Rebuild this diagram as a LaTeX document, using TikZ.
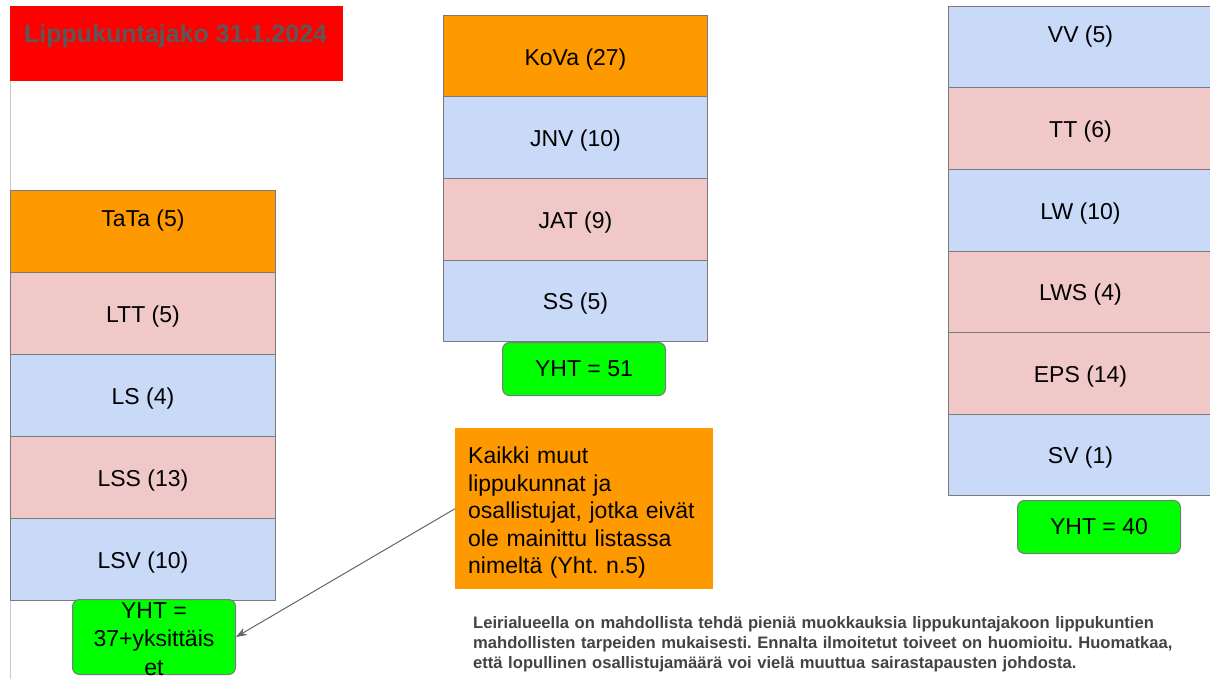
\documentclass[tikz,border=0pt]{standalone}
\usepackage{fontspec}
\setmainfont{Liberation Sans}
\usetikzlibrary{arrows.meta}
\definecolor{cblue}{HTML}{C9DAF8}
\definecolor{cpink}{HTML}{F0C8C8}
\definecolor{corange}{HTML}{FF9900}
\definecolor{cgreen}{HTML}{00FF00}
\definecolor{cborder}{HTML}{7A7A7A}
\definecolor{ctitle}{HTML}{595959}
\definecolor{cnote}{HTML}{434343}
\definecolor{cedge}{HTML}{C8C8C8}
\frenchspacing
\begin{document}
\begin{tikzpicture}[x=1pt,y=-1pt,
  font=\fontsize{23}{27}\selectfont,
  cell/.style={draw=cborder, line width=1pt, minimum width=265pt, minimum height=81.8pt,
    anchor=north west, inner sep=0pt, text=black, text height=20pt, text depth=2pt},
  bluecell/.style={cell, fill=cblue},
  pinkcell/.style={cell, fill=cpink},
  orangecell/.style={cell, fill=corange},
  total/.style={draw=cborder, line width=1pt, fill=cgreen, rounded corners=7pt,
    minimum width=163pt, anchor=north west, inner sep=0pt, text=black},
  sumtext/.style={text height=18pt, text depth=3pt},
  pointer/.style={draw=black!60, line width=1pt, -{Stealth[length=11pt,width=8pt]}}
]
\useasboundingbox (0,0) rectangle (1210,679);
\fill[white] (0,0) rectangle (1210,679);
\draw[cedge, line width=1pt] (10,81) -- (10,679);

% title
\node[fill=red, minimum width=333pt, minimum height=75pt, anchor=north west, inner sep=0pt] (title) at (10,6) {};
\node[anchor=base west, inner sep=0pt, text=ctitle, font=\fontsize{25}{30}\selectfont\bfseries] (titletext) at (24,43) {Lippukuntajako 31.1.2024};

% left column
\node[orangecell, label={[yshift=10.5pt, name=tatatext]center:TaTa (5)}] (tata) at (10,190) {};
\node[pinkcell] (ltt) at (10,272) {LTT (5)};
\node[bluecell] (ls) at (10,354) {LS (4)};
\node[pinkcell] (lss) at (10,436) {LSS (13)};
\node[bluecell] (lsv) at (10,518) {LSV (10)};
\node[total, minimum height=75pt,
  label={[name=yhtLtext, yshift=-2pt, align=center, font=\fontsize{23}{28.3}\selectfont]center:YHT =\\37+yksittäis\\et}] (yhtL) at (72,599) {};

% middle column
\node[orangecell, minimum width=264pt, minimum height=81.5pt] (kova) at (443,15) {KoVa (27)};
\node[bluecell, minimum width=264pt, minimum height=81.5pt] (jnv) at (443,96.5) {JNV (10)};
\node[pinkcell, minimum width=264pt, minimum height=81.5pt] (jat) at (443,178) {JAT (9)};
\node[bluecell, minimum width=264pt, minimum height=81.5pt] (ss) at (443,259.5) {SS (5)};
\node[total, sumtext, minimum height=53pt] (yhtM) at (502,342) {YHT = 51};

% right column
\node[bluecell, minimum width=264pt, minimum height=81.5pt, label={[yshift=10.5pt, name=vvtext]center:VV (5)}] (vv) at (948,6) {};
\node[pinkcell, minimum width=264pt, minimum height=81.5pt] (tt) at (948,87.5) {TT (6)};
\node[bluecell, minimum width=264pt, minimum height=81.5pt] (lw) at (948,169) {LW (10)};
\node[pinkcell, minimum width=264pt, minimum height=81.5pt] (lws) at (948,250.5) {LWS (4)};
\node[pinkcell, minimum width=264pt, minimum height=81.5pt] (eps) at (948,332) {EPS (14)};
\node[bluecell, minimum width=264pt, minimum height=81.5pt] (sv) at (948,413.5) {SV (1)};
\node[total, sumtext, minimum height=53pt] (yhtR) at (1017,500) {YHT = 40};

% note
\node[fill=corange, minimum width=258pt, minimum height=161pt, anchor=north west, inner sep=0pt] (note) at (455,428) {};
\node[anchor=north west, inner sep=0pt, text width=245pt, align=left, text=black,
  font=\fontsize{23}{27.5}\selectfont] (notetext) at (468,447)
  {Kaikki muut\\lippukunnat ja\\osallistujat, jotka eivät\\ole mainittu listassa\\nimeltä (Yht. n.5)};
\draw[pointer] (note.west) -- (yhtL.east);

% bottom remark
\node[anchor=north west, inner sep=0pt, text width=735pt, align=left, text=cnote,
  font=\fontsize{16.6}{20.3}\selectfont\bfseries] (remark) at (473,616)
  {Leirialueella on mahdollista tehdä pieniä muokkauksia lippukuntajakoon lippukuntien\\mahdollisten tarpeiden mukaisesti. Ennalta ilmoitetut toiveet on huomioitu. Huomatkaa,\\että lopullinen osallistujamäärä voi vielä muuttua sairastapausten johdosta.};
\end{tikzpicture}
\end{document}
